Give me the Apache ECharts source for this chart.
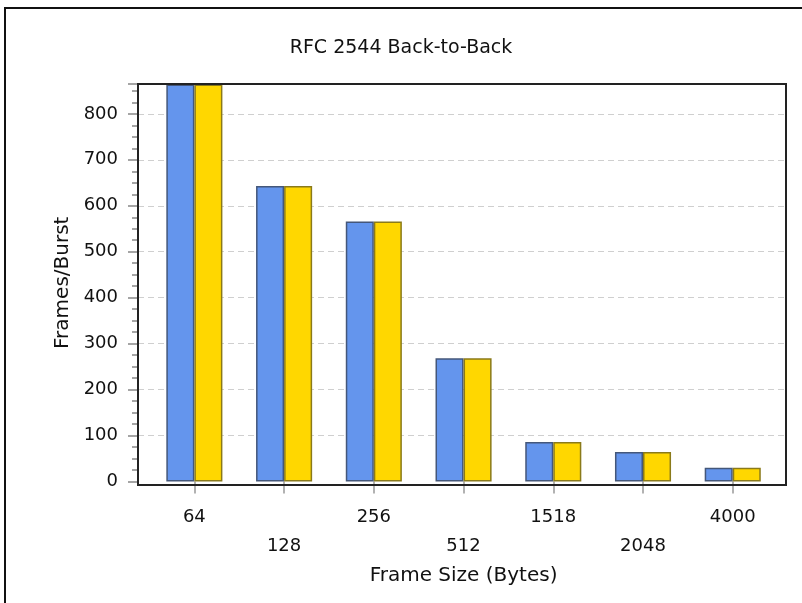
<!DOCTYPE html>
<html>
<head>
<meta charset="utf-8">
<script src="https://cdn.jsdelivr.net/npm/echarts@6/dist/echarts.min.js"></script>
<style>
html,body{margin:0;padding:0;background:#fff;}
#chart{width:802px;height:603px;}
</style>
</head>
<body>
<div id="chart"></div>
<script>
var titleText = 'RFC 2544 Back-to-Back';
var categories = ['64', '128', '256', '512', '1518', '2048', '4000'];
var seriesBlue = [864, 643, 566, 268, 86, 64, 30];
var seriesGold = [864, 643, 566, 268, 86, 64, 30];
var yAxisName = 'Frames/Burst';
var xAxisName = 'Frame Size (Bytes)';

var FONT = 'DejaVu Sans';
var yMax = 865;
// plot frame geometry
var frameLeft = 138, frameTop = 84, frameRight = 786, frameBottom = 485, zeroY = 481.5;
var pxPerUnit = (zeroY - frameTop) / yMax;
var yMinB = -(frameBottom - zeroY) / pxPerUnit;

var chart = echarts.init(document.getElementById('chart'));
var gridColors = ['rgba(0,0,0,0)'];
for (var i = 0; i < 10; i++) gridColors.push('#cfcfcf');

var option = {
  backgroundColor: '#fff',
  animation: false,
  title: {
    text: titleText,
    left: 'center',
    top: 34,
    textStyle: {fontFamily: FONT, fontSize: 19, fontWeight: 'normal', color: '#111'}
  },
  grid: [
    {left: frameLeft, right: 802 - frameRight, top: frameTop, bottom: 603 - zeroY},
    {left: 149.5, right: 802 - 777.6, top: frameTop, bottom: 603 - frameBottom}
  ],
  xAxis: [
    {type: 'category', gridIndex: 0, data: categories, show: false},
    {
      type: 'category', gridIndex: 1, data: categories,
      axisLine: {show: false},
      axisTick: {show: true, alignWithLabel: true, length: 12, lineStyle: {color: '#999', width: 1.5}},
      axisLabel: {
        fontFamily: FONT, fontSize: 18, color: '#111', margin: 18, lineHeight: 29,
        interval: 0,
        formatter: function (v, idx) { return idx % 2 === 1 ? '\n' + v : v; }
      },
      name: xAxisName,
      nameLocation: 'middle',
      nameGap: 78,
      nameTextStyle: {fontFamily: FONT, fontSize: 20, color: '#111'}
    }
  ],
  yAxis: [
    {
      type: 'value', gridIndex: 0, min: 0, max: yMax, interval: 100,
      axisLine: {show: false},
      axisTick: {show: true, length: 10, lineStyle: {color: '#888', width: 1.5}},
      minorTick: {show: true, splitNumber: 4, length: 6, lineStyle: {color: '#888', width: 1.5}},
      axisLabel: {fontFamily: FONT, fontSize: 18, color: '#111', margin: 20, showMaxLabel: false},
      splitLine: {show: true, lineStyle: {color: gridColors, type: [6, 4], width: 1}},
      name: yAxisName,
      nameLocation: 'middle',
      nameGap: 64,
      nameTextStyle: {fontFamily: FONT, fontSize: 20, color: '#111'}
    },
    {
      type: 'value', gridIndex: 1, min: yMinB, max: yMax, show: false,
      splitLine: {show: false}
    }
  ],
  series: [
    {
      name: 'Blue', type: 'bar', xAxisIndex: 1, yAxisIndex: 1,
      data: seriesBlue, barGap: '0%', barCategoryGap: '37.5%',
      itemStyle: {color: '#6495ED', borderColor: '#44577a', borderWidth: 1.5}
    },
    {
      name: 'Gold', type: 'bar', xAxisIndex: 1, yAxisIndex: 1,
      data: seriesGold, barGap: '0%', barCategoryGap: '37.5%',
      itemStyle: {color: '#FFD700', borderColor: '#8a7a1a', borderWidth: 1.5}
    }
  ],
  graphic: [
    {
      type: 'rect', z: 100, silent: true,
      shape: {x: frameLeft, y: frameTop, width: frameRight - frameLeft, height: frameBottom - frameTop},
      style: {fill: 'none', stroke: '#222', lineWidth: 2}
    },
    {
      type: 'rect', z: 100, silent: true,
      shape: {x: 5, y: 8, width: 1000, height: 1000},
      style: {fill: 'none', stroke: '#111', lineWidth: 2}
    }
  ]
};
chart.setOption(option);
</script>
</body>
</html>
